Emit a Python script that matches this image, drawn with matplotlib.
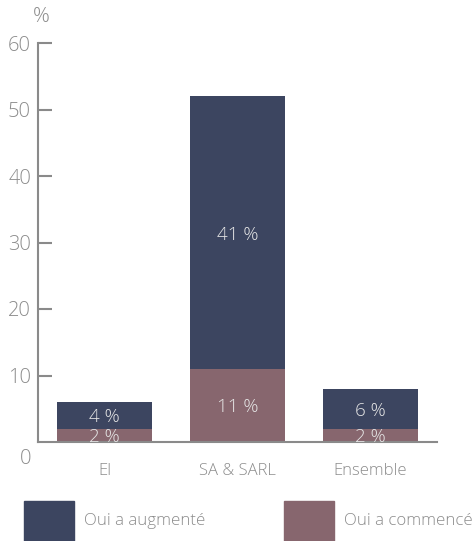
import matplotlib
matplotlib.use("Agg")
import matplotlib.pyplot as plt
import matplotlib.transforms as mtransforms
from matplotlib.patches import Rectangle

plt.rcParams['font.family'] = ['Open Sans', 'DejaVu Sans']
plt.rcParams['font.weight'] = 'light'

categories = ["EI", "SA & SARL", "Ensemble"]
commence = [2, 11, 2]        # Oui a commencé
augmente = [4, 41, 6]        # Oui a augmenté
series_names = ["Oui a augmenté", "Oui a commencé"]
yticks = [0, 10, 20, 30, 40, 50, 60]

NAVY = "#3c4560"
MAUVE = "#87666e"
GREY = "#8c8c8c"
AXIS = "#8a8a8a"
LABEL = "#e6e6e6"

fig = plt.figure(figsize=(4.74, 5.41), dpi=100)
ax = fig.add_axes([38/474, 1 - 442/541, (437 - 38)/474, (442 - 43)/541])

x = list(range(len(categories)))
w = 0.72
ax.bar(x, commence, width=w, color=MAUVE, zorder=2)
ax.bar(x, augmente, width=w, bottom=commence, color=NAVY, zorder=2)

for i in x:
    c, a = commence[i], augmente[i]
    ax.text(i, c / 2, f"{c} %", ha="center", va="center_baseline",
            color=LABEL, fontsize=13.5, zorder=3)
    ax.text(i, c + a / 2, f"{a} %", ha="center", va="center_baseline",
            color=LABEL, fontsize=13.5, zorder=3)

ax.set_xlim(-0.5, 2.5)
ax.set_ylim(0, 60)
ax.set_yticks(yticks)
ax.set_yticklabels([str(v) for v in yticks])
ax.set_xticks(x)
ax.set_xticklabels(categories)

for s in ("top", "right"):
    ax.spines[s].set_visible(False)
for s in ("left", "bottom"):
    ax.spines[s].set_color(AXIS)
    ax.spines[s].set_linewidth(1.5)

ax.tick_params(axis="y", direction="in", length=10, width=1.5, color=AXIS,
               labelcolor=GREY, labelsize=14.5, pad=5)
ax.tick_params(axis="x", length=0, labelcolor=GREY, labelsize=12, pad=15)

# the zero label sits below the baseline, without a tick mark
ytl = ax.yaxis.get_major_ticks()
ytl[0].tick1line.set_visible(False)
ytl[0].label1.set_transform(ytl[0].label1.get_transform() +
                            mtransforms.ScaledTranslation(0, -14/100, fig.dpi_scale_trans))

fig.text(41/474, 1 - 17/541, "%", color=GREY, fontsize=15, ha="center", va="center")

# legend
legend_items = [(24, NAVY, series_names[0]), (284, MAUVE, series_names[1])]
for x0, col, name in legend_items:
    fig.patches.append(Rectangle((x0/474, 0), 50/474, 40/541, transform=fig.transFigure,
                                 color=col, zorder=1))
    fig.text((x0 + 60)/474, 1 - 521/541, name, color=GREY, fontsize=12.2,
             ha="left", va="center")

fig.savefig("out.png", dpi=100)
